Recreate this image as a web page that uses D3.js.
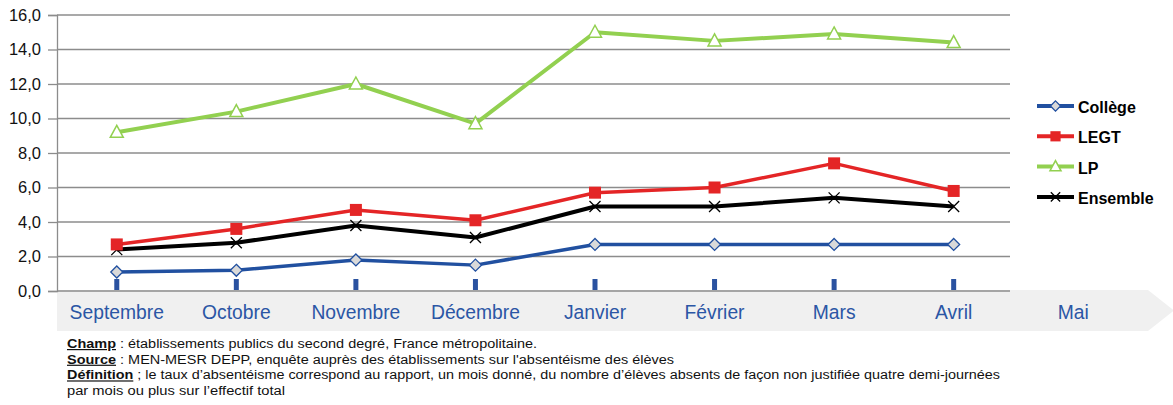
<!DOCTYPE html>
<html><head><meta charset="utf-8">
<script src="https://cdn.jsdelivr.net/npm/d3@7"></script>
<style>body{margin:0;background:#fff}svg{display:block;font-family:"Liberation Sans",Arial,sans-serif}</style>
</head><body><svg id="c" width="1173" height="405"></svg>
<script>
const months = ["Septembre","Octobre","Novembre","Décembre","Janvier","Février","Mars","Avril","Mai"];
const college = [1.1,1.2,1.8,1.5,2.7,2.7,2.7,2.7];
const legt = [2.7,3.6,4.7,4.1,5.7,6.0,7.4,5.8];
const lp = [9.2,10.4,12.0,9.7,15.0,14.5,14.9,14.4];
const ensemble = [2.4,2.8,3.8,3.1,4.9,4.9,5.4,4.9];
const yTicks = [0,2,4,6,8,10,12,14,16];
const seriesNames = ["Collège","LEGT","LP","Ensemble"];

const svg = d3.select("#c");
const x = d3.scaleBand().domain(months).range([57,1133]);
const y = d3.scaleLinear().domain([0,16]).range([291,15]);
const cx = m => x(m) + x.bandwidth()/2;

// axis band with arrow
svg.append("path")
  .attr("d", d3.line()([[57,290],[1148,290],[1174,310.5],[1148,331],[57,331]]) + "Z")
  .attr("fill","#f0f0f0");

// gridlines
svg.append("g").selectAll("line").data(yTicks.slice(1)).join("line")
  .attr("x1",57).attr("x2",1010).attr("y1",d=>y(d)).attr("y2",d=>y(d))
  .attr("stroke","#8c8c8c").attr("stroke-width",1.3);

// y axis
const yAxis = d3.axisLeft(y).tickValues(yTicks).tickSize(9).tickPadding(7)
  .tickFormat(d => d3.format(".1f")(d).replace(".",","));
const ga = svg.append("g").attr("transform","translate(57,0)").call(yAxis);
ga.select(".domain").attr("stroke","#8c8c8c").attr("stroke-width",1.3);
ga.selectAll(".tick line").attr("stroke","#8c8c8c").attr("stroke-width",1.3);
ga.selectAll("text").attr("font-size",16.5).attr("fill","#111").attr("font-family","Liberation Sans, Arial, sans-serif");
// bottom baseline
svg.append("line").attr("x1",57).attr("x2",1010).attr("y1",291).attr("y2",291).attr("stroke","#8c8c8c").attr("stroke-width",1.3);

// category ticks (blue)
svg.append("g").selectAll("rect").data(months.slice(0,8)).join("rect")
  .attr("x",d=>cx(d)-2.5).attr("y",279).attr("width",5).attr("height",11).attr("fill","#2a52a0");

// category labels
svg.append("g").selectAll("text").data(months).join("text")
  .attr("x",d=>cx(d)).attr("y",319).attr("text-anchor","middle")
  .attr("font-size",19.3).attr("fill","#2b56a5").text(d=>d);

const line = d3.line().x((d,i)=>cx(months[i])).y(d=>y(d));
const data = [
  {name:"LP", vals:lp, color:"#92d050"},
  {name:"Ensemble", vals:ensemble, color:"#000"},
  {name:"LEGT", vals:legt, color:"#e42526"},
  {name:"Collège", vals:college, color:"#2150a0"}
];
data.forEach(s=>{
  svg.append("path").datum(s.vals).attr("d",line).attr("fill","none")
    .attr("stroke",s.color).attr("stroke-width",s.name==="LEGT"||s.name==="Collège"?3.5:4).attr("stroke-linejoin","round");
});

function marker(g,name,px,py,k=1){
  if(name==="Collège"){
    const r=6*k;
    g.append("path").attr("d",`M${px},${py-r}L${px+r},${py}L${px},${py+r}L${px-r},${py}Z`)
      .attr("fill","#d9d9d9").attr("stroke","#2150a0").attr("stroke-width",1.3);
  } else if(name==="LEGT"){
    const r=6*k;
    g.append("rect").attr("x",px-r).attr("y",py-r).attr("width",2*r).attr("height",2*r).attr("fill","#e42526");
  } else if(name==="LP"){
    g.append("path").attr("d",`M${px},${py-7*k}L${px+6.5*k},${py+5*k}L${px-6.5*k},${py+5*k}Z`)
      .attr("fill","#fff").attr("stroke","#92d050").attr("stroke-width",1.5);
  } else {
    const r=5.5*k;
    g.append("path").attr("d",`M${px-r},${py-r}L${px+r},${py+r}M${px+r},${py-r}L${px-r},${py+r}`)
      .attr("stroke","#000").attr("stroke-width",1.3);
  }
}
const mg = svg.append("g");
data.forEach(s=>s.vals.forEach((v,i)=>marker(mg,s.name,cx(months[i]),y(v))));

// legend
const colors = {"Collège":"#2150a0","LEGT":"#e42526","LP":"#92d050","Ensemble":"#000"};
const lg = svg.append("g");
seriesNames.forEach((n,i)=>{
  const ly = 106 + i*30.3;
  lg.append("line").attr("x1",1037).attr("x2",1074).attr("y1",ly).attr("y2",ly).attr("stroke",colors[n]).attr("stroke-width",4);
  marker(lg,n,1055.5,ly,0.85);
  lg.append("text").attr("x",1078).attr("y",ly+7).attr("font-size",16).attr("font-weight","bold").attr("fill","#000").text(n);
});

// footnotes
const notes = [
  {b:"Champ", t:" : établissements publics du second degré, France métropolitaine.", w:470},
  {b:"Source", t:" : MEN-MESR DEPP, enquête auprès des établissements sur l'absentéisme des élèves", w:607},
  {b:"Définition", t:" ; le taux d’absentéisme correspond au rapport, un mois donné, du nombre d’élèves absents de façon non justifiée quatre demi-journées", w:933},
  {b:"", t:"par mois ou plus sur l’effectif total", w:218}
];
notes.forEach((n,i)=>{
  const t = svg.append("text").attr("x",67).attr("y",348+i*15.7).attr("font-size",12).attr("fill","#111")
    .attr("textLength",n.w).attr("lengthAdjust","spacingAndGlyphs");
  if(n.b) t.append("tspan").attr("font-weight","bold").attr("text-decoration","underline").text(n.b);
  t.append("tspan").text(n.t);
});
</script></body></html>
